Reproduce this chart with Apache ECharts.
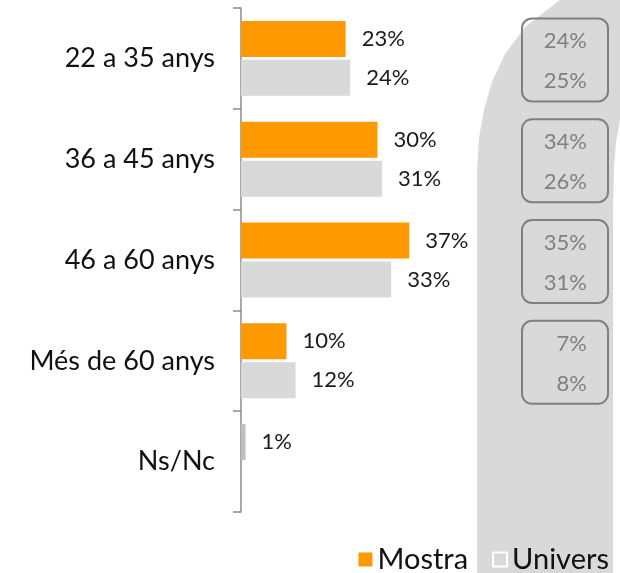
<!DOCTYPE html>
<html>
<head>
<meta charset="utf-8">
<script src="https://cdn.jsdelivr.net/npm/echarts@6/dist/echarts.min.js"></script>
<style>
  html, body { margin: 0; padding: 0; background: #fff; }
  #main { width: 620px; height: 573px; }
</style>
</head>
<body>
<div id="main"></div>
<script>
var categories = ['22 a 35 anys', '36 a 45 anys', '46 a 60 anys', 'Més de 60 anys', 'Ns/Nc'];
var mostra = [23, 30, 37, 10, 1];
var univers = [24, 31, 33, 12, '-'];
// valors de referència (caixes de la dreta)
var refTop = [24, 34, 35, 7];
var refBottom = [25, 26, 31, 8];

var font = 'Lato';
var chart = echarts.init(document.getElementById('main'));

var mostraData = mostra.map(function (v, i) {
	if (i == 4) return { value: v, itemStyle: { color: '#bfbfbf' } };
	return v;
});

var boxData = refTop.map(function (v, i) {
	return [0.5, i, v, refBottom[i]];
});

var option = {
	backgroundColor: '#fff',
	animation: false,
	graphic: [{
		type: 'polygon',
		z: -10,
		shape: {
			points: [[477, 573], [477, 170], [479, 138], [484, 110], [492, 82], [505, 54], [526, 26], [560, 0],
				[620, 0], [620, 120], [616, 142], [614, 168], [613, 210], [613, 573]]
		},
		style: { fill: '#d9d9d9' }
	}],
	legend: {
		right: 6,
		top: 540,
		itemWidth: 14,
		itemHeight: 14,
		itemGap: 24,
		icon: 'rect',
		textStyle: { fontFamily: font, fontSize: 29, color: '#111' },
		data: [
			{ name: 'Mostra' },
			{ name: 'Univers', itemStyle: { color: '#d9d9d9', borderColor: '#fff', borderWidth: 2 } }
		]
	},
	grid: [
		{ left: 241, top: 8, width: 364, bottom: 61 },
		{ left: 522, top: 8, width: 86, bottom: 61 }
	],
	xAxis: [
		{ type: 'value', min: 0, max: 80, show: false, gridIndex: 0 },
		{ type: 'value', min: 0, max: 1, show: false, gridIndex: 1 }
	],
	yAxis: [{
		type: 'category',
		data: categories,
		inverse: true,
		gridIndex: 0,
		axisLine: { lineStyle: { color: '#8c8c8c', width: 1.5 } },
		axisTick: { show: true, inside: false, length: 8, lineStyle: { color: '#8c8c8c', width: 1.5 } },
		axisLabel: { margin: 26, fontFamily: font, fontSize: 27, color: '#111' }
	}, {
		type: 'category',
		data: categories,
		inverse: true,
		gridIndex: 1,
		show: false
	}],
	series: [{
		name: 'Mostra',
		type: 'bar',
		barWidth: 36,
		barGap: '8%',
		itemStyle: { color: '#ff9900' },
		label: {
			show: true,
			position: 'right',
			distance: 16,
			formatter: '{c}%',
			fontFamily: font,
			fontSize: 22,
			color: '#1a1a1a'
		},
		data: mostraData
	}, {
		name: 'Univers',
		type: 'bar',
		barWidth: 36,
		itemStyle: { color: '#d9d9d9' },
		label: {
			show: true,
			position: 'right',
			distance: 16,
			formatter: '{c}%',
			fontFamily: font,
			fontSize: 22,
			color: '#1a1a1a'
		},
		data: univers
	}, {
		type: 'custom',
		xAxisIndex: 1,
		yAxisIndex: 1,
		silent: true,
		data: boxData,
		renderItem: function (params, api) {
			var c = api.coord([0, api.value(1)]);
			var w = api.size([1, 0])[0];
			var x = c[0];
			var y = c[1];
			return {
				type: 'group',
				children: [{
					type: 'rect',
					shape: { x: x, y: y - 40, width: w, height: 83, r: 10 },
					style: { fill: 'none', stroke: '#808080', lineWidth: 2 }
				}, {
					type: 'text',
					style: {
						x: x + 65, y: y - 17, text: api.value(2) + '%',
						align: 'right', verticalAlign: 'middle',
						font: '22px ' + font, fill: '#808080'
					}
				}, {
					type: 'text',
					style: {
						x: x + 65, y: y + 23, text: api.value(3) + '%',
						align: 'right', verticalAlign: 'middle',
						font: '22px ' + font, fill: '#808080'
					}
				}]
			};
		}
	}]
};

chart.setOption(option);
</script>
</body>
</html>
